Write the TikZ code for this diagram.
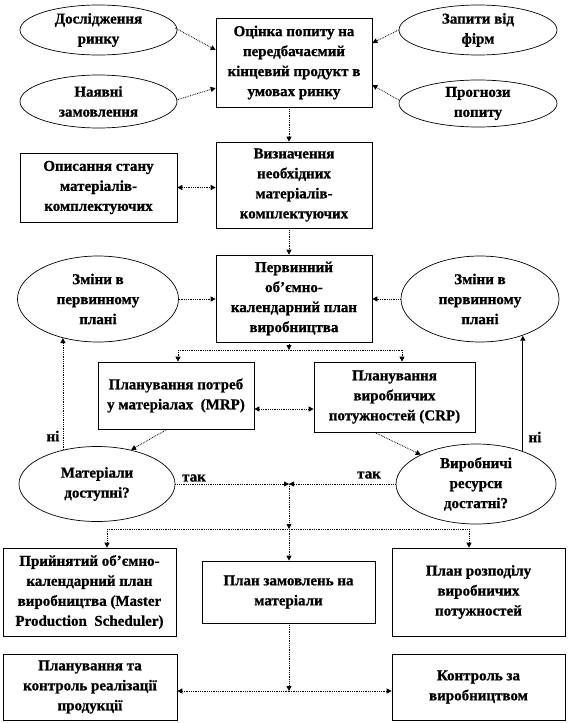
\documentclass[tikz,border=0pt]{standalone}
\usepackage{fontspec}
\setmainfont{Liberation Serif}[BoldFeatures={FakeBold=0.9}]
\usetikzlibrary{shapes.geometric,arrows.meta,calc}
\begin{document}
\begin{tikzpicture}[x=1pt,y=-1pt,
  every node/.style={font=\fontsize{15}{20}\selectfont\bfseries, align=center, inner sep=0pt},
  bx/.style={draw, line width=0.7pt, rectangle},
  el/.style={draw, line width=0.7pt, ellipse},
  con/.style={densely dotted, line width=0.8pt},
  arr/.style={con, -{Triangle[length=5pt,width=5pt]}},
  arrs/.style={line width=0.7pt, -{Triangle[length=5pt,width=5pt]}},
  darr/.style={con, {Triangle[length=5pt,width=5pt]}-{Triangle[length=5pt,width=5pt]}},
  lbl/.style={font=\fontsize{15}{20}\selectfont\bfseries}
  ]
\useasboundingbox (0,0) rectangle (568,723);
\coordinate (spine) at (289,0);

% top row
\node[el, minimum width=157pt, minimum height=50pt] (e1) at (98.5,30) {Дослідження\\ринку};
\node[el, minimum width=157pt, minimum height=53pt] (e2) at (98.5,101.5) {Наявні\\замовлення};
\node[el, minimum width=158pt, minimum height=50pt] (e3) at (478,30) {Запити від\\фірм};
\node[el, minimum width=158pt, minimum height=47pt] (e4) at (478,103.5) {Прогнози\\попиту};
\node[bx, minimum width=156pt, minimum height=89pt] (b1) at (294,62.5) {Оцінка попиту на\\передбачаємий\\кінцевий продукт в\\умовах ринку};

\node[bx, minimum width=156pt, minimum height=86pt] (b2) at (294,185) {Визначення\\необхідних\\матеріалів-\\комплектуючих};
\node[bx, minimum width=157pt, minimum height=69pt] (d) at (98.5,187.5) {Описання стану\\матеріалів-\\комплектуючих};

\node[bx, minimum width=156pt, minimum height=87pt] (b3) at (294,298.5) {Первинний\\об’ємно-\\календарний план\\виробництва};
\node[el, minimum width=161pt, minimum height=86pt] (el) at (98,299) {Зміни в\\первинному\\плані};
\node[el, minimum width=158pt, minimum height=86pt] (er) at (480,299) {Зміни в\\первинному\\плані};

\node[bx, minimum width=156pt, minimum height=67pt] (mrp) at (176,395.5) {Планування потреб\\у матеріалах\ \ (MRP)};
\node[bx, minimum width=161pt, minimum height=70pt] (crp) at (394.5,397) {Планування\\виробничих\\потужностей (CRP)};

\node[el, minimum width=156pt, minimum height=75pt] (em) at (97,484) {Матеріали\\доступні?};
\node[el, minimum width=160pt, minimum height=80pt] (ev) at (476,484) {Виробничі\\ресурси\\достатні?};

\node[bx, minimum width=173pt, minimum height=88pt] (acc) at (89.5,592) {Прийнятий об’ємно-\\календарний план\\виробництва (Master\\Production\ \ Scheduler)};
\node[bx, minimum width=173pt, minimum height=62pt] (ord) at (288.5,592) {План замовлень на\\матеріали};
\node[bx, minimum width=173pt, minimum height=88pt] (dist) at (478.5,592) {План розподілу\\виробничих\\потужностей};

\node[bx, minimum width=174pt, minimum height=66pt] (bl) at (90,687) {Планування та\\контроль реалізації\\продукції};
\node[bx, minimum width=173pt, minimum height=66pt] (br) at (478.5,687) {Контроль за\\виробництвом};

% labels
\node[lbl] (n1) at (53,436) {ні};
\node[lbl] (n2) at (535,437) {ні};
\node[lbl] (t1) at (194,478) {так};
\node[lbl] (t2) at (369,475) {так};

% connectors top
\draw[arr] ($(e1.east)+(-2,-2)$) -- ($(b1.west)+(0,-12.5)$);
\draw[arr] ($(e2.east)+(-1,-1.5)$) -- ($(b1.west)+(0,25.5)$);
\draw[arr] (e3.west) -- ($(b1.east)+(0,-19.5)$);
\draw[arr] ($(e4.west)+(0,-3.5)$) -- ($(b1.east)+(0,22.5)$);
\draw[arr] (b1.south -| spine) -- (b2.north -| spine);
\draw[darr] (d.east) -- (b2.west |- d.east);
\draw[arr] (b2.south -| spine) -- (b3.north -| spine);
\draw[arr] (el.east) -- (b3.west |- el.east);
\draw[arr] (er.west) -- (b3.east |- er.west);

% split to MRP / CRP
\coordinate (split) at (289,350);
\coordinate (sl) at (178,350);
\coordinate (sr) at (402,350);
\draw[arr] (b3.south -| spine) -- (split);
\draw[con] (sl) -- (sr);
\draw[arr] (sl) -- (sl |- mrp.north);
\draw[arr] (sr) -- (sr |- crp.north);
\draw[darr] (mrp.east |- 0,409) -- (crp.west |- 0,409);

\draw[arr] ($(mrp.south)+(-9,0)$) -- (em.45);
\draw[arr] ($(crp.south)+(-20,0)$) -- (ev.152);

% feedback loops
\draw[arr] (em.135) -- (em.135 |- el.228);
\draw[arrs] (ev.35) -- (ev.35 |- er.319);

% yes branches
\coordinate (jn) at (289,484);
\draw[arr] (em.east) -- (jn);
\draw[arr] (ev.west) -- (jn);
\coordinate (dl) at (107,529);
\coordinate (dr) at (469,529);
\draw[arr] (jn) -- (spine |- dl);
\draw[con] (dl) -- (dr);
\draw[arr] (dl) -- (dl |- acc.north);
\draw[arr] (spine |- dl) -- (ord.north -| spine);
\draw[arr] (dr) -- (dr |- dist.north);

% bottom
\coordinate (bj) at (289,691);
\draw[arr] (ord.south -| spine) -- (bj);
\draw[arr] (bj) -- (bl.east |- bj);
\draw[arr] (bj) -- (br.west |- bj);
\end{tikzpicture}
\end{document}
